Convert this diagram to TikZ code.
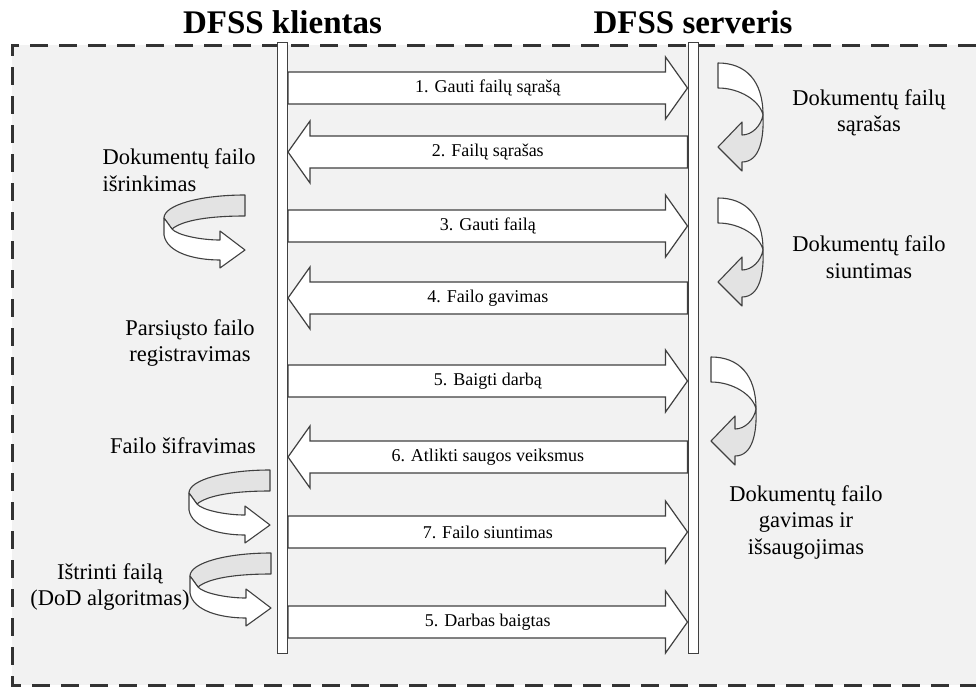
\documentclass[tikz,border=0pt]{standalone}
\usepackage{fontspec}
\setmainfont{Liberation Serif}
\usetikzlibrary{calc}
\definecolor{bggray}{HTML}{F2F2F2}
\definecolor{edge}{HTML}{404040}
\definecolor{shade}{HTML}{E3E3E3}
\tikzset{
    title/.style = {font=\fontsize{33}{38}\selectfont\bfseries},
    side/.style = {font=\fontsize{22.5}{26.5}\selectfont, align=center},
    lifeline/.style = {draw=edge, fill=white, line width=1pt,
        minimum width=10pt, minimum height=611pt, inner sep=0pt},
    msgarrow/.style = {draw=edge, fill=white, line width=1.2pt, line join=miter},
    msglabel/.style = {font=\fontsize{18}{22}\selectfont},
    turnbody/.style = {draw=edge, line width=1.1pt, line join=round},
    turnR/.pic = {
        \filldraw[turnbody, fill=white] (0,0) .. controls (28,0) and (45,18) .. (45,52)
            .. controls (42,38) and (22,25) .. (0,25) -- cycle;
        \filldraw[turnbody, fill=shade] (45,52) .. controls (46,75) and (42,99) .. (24,99)
            -- (24,108) -- (0,84) -- (24,59) -- (24,72) .. controls (34,72) and (43,63) .. (45,52) -- cycle;
    },
    turnL/.pic = {
        \filldraw[turnbody, fill=shade] (0,0) .. controls (-45,0) and (-81,10) .. (-81,23)
            -- (-73,34) .. controls (-62,25) and (-35,21) .. (0,21) -- cycle;
        \filldraw[turnbody, fill=white] (-81,23) -- (-81,40) .. controls (-78,58) and (-50,65) .. (-25,65)
            -- (-25,73) -- (0,55) -- (-25,36) -- (-25,45) .. controls (-45,45) and (-68,40) .. (-73,34) -- cycle;
    }
}
% #1 start, #2 end, #3 height, #4 name, #5 text
\newcommand{\msg}[5]{%
    \coordinate (a) at (#1 |- 0,#3);
    \coordinate (b) at (#2 |- 0,#3);
    \coordinate (h) at ($(b)!22pt!(a)$);
    \draw[msgarrow] ($(a)+(0,16)$) -- ($(h)+(0,16)$) -- ($(h)+(0,31)$) -- (b)
        -- ($(h)+(0,-31)$) -- ($(h)+(0,-16)$) -- ($(a)+(0,-16)$) -- cycle;
    \node[msglabel] (#4) at ($(a)!.5!(b)$) {#5};}

\begin{document}
\begin{tikzpicture}[x=1pt, y=-1pt]
    \useasboundingbox (0,0) rectangle (976,688);
    \fill[bggray] (12,45) rectangle (976,685);
    \draw[edge!80!black, line width=3pt, dash pattern=on 18pt off 11pt]
        (976,45) -- (12,45) -- (12,685) -- (976,685);

    \node[lifeline] (cl) at (282.5,347.5) {};
    \node[lifeline] (sv) at (693,347.5) {};
    \node[title] (tcl) at (cl |- 0,22) {DFSS klientas};
    \node[title] (tsv) at (sv |- 0,22) {DFSS serveris};

    \msg{cl.east}{sv.west}{88}{m1}{1. Gauti failų sąrašą}
    \msg{sv.west}{cl.east}{152}{m2}{2. Failų sąrašas}
    \msg{cl.east}{sv.west}{226}{m3}{3. Gauti failą}
    \msg{sv.west}{cl.east}{298}{m4}{4. Failo gavimas}
    \msg{cl.east}{sv.west}{381}{m5}{5. Baigti darbą}
    \msg{sv.west}{cl.east}{457}{m6}{6. Atlikti saugos veiksmus}
    \msg{cl.east}{sv.west}{532}{m7}{7. Failo siuntimas}
    \msg{cl.east}{sv.west}{622}{m8}{5. Darbas baigtas}

    \pic at (718,63) {turnR};
    \pic at (718,198) {turnR};
    \pic at (711,357) {turnR};
    \pic at (245,195) {turnL};
    \pic at (270,470) {turnL};
    \pic at (271,553) {turnL};

    \node[side] (s1) at (869,113) {Dokumentų failų\\sąrašas};
    \node[side, align=left, anchor=west] (s2) at (99,170) {Dokumentų failo\\išrinkimas};
    \node[side] (s3) at (869,257) {Dokumentų failo\\siuntimas};
    \node[side] (s4) at (190,343) {Parsiųsto failo\\registravimas};
    \node[side] (s5) at (183,446) {Failo šifravimas};
    \node[side] (s6) at (806,522) {Dokumentų failo\\gavimas ir\\išsaugojimas};
    \node[side] (s7) at (110,587) {Ištrinti failą\\(DoD algoritmas)};
\end{tikzpicture}
\end{document}
